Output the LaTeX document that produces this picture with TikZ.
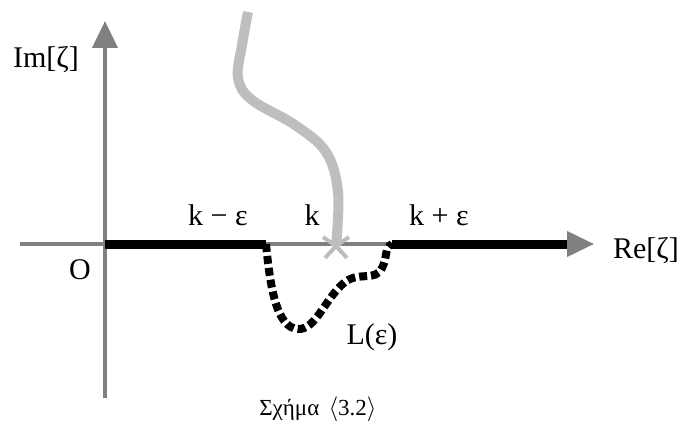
\documentclass[tikz,border=0pt]{standalone}
\usepackage{fontspec}
\setmainfont{Liberation Serif}
\usetikzlibrary{arrows.meta}
\definecolor{axisgray}{RGB}{128,128,128}
\definecolor{cutgray}{RGB}{190,190,190}
\begin{document}
\begin{tikzpicture}[x=1pt,y=-1pt,
  axisline/.style={draw=axisgray,line width=4pt},
  axisarrow/.style={-{Triangle[length=27pt,width=25pt]}},
  thickseg/.style={draw=black,line width=9pt},
  contour/.style={draw=black,line width=8pt,dash pattern=on 8pt off 4pt},
  cutline/.style={draw=cutgray,line width=10pt},
  lbl/.style={inner sep=0pt,font=\fontsize{30}{32}\selectfont},
  captxt/.style={inner sep=0pt,font=\fontsize{23}{25}\selectfont}]
\useasboundingbox[fill=white] (0,0) rectangle (682,428);
% coordinates
\coordinate (xstart) at (20,244);
\coordinate (xend) at (594,244);
\coordinate (ystart) at (105,398);
\coordinate (yend) at (105,21);
\coordinate (O) at (105,244);
\coordinate (km) at (266,244);
\coordinate (kp) at (392,244);
\coordinate (xbase) at (567,244);
\coordinate (K) at (336,246);
% axes
\draw[axisline,axisarrow,color=axisgray] (ystart) -- (yend);
\draw[axisline,axisarrow,color=axisgray] (xstart) -- (xend);
% thick segments
\draw[thickseg] (O) -- (km);
\draw[thickseg] (kp) -- (xbase);
% branch cut
\draw[cutline] plot[smooth,tension=0.6] coordinates {(248,12) (242,45) (238,78) (252,100) (295,125) (326,152) (338,192) (K)};
\draw[draw=cutgray,line width=4pt] (K) -- ++(-13,-9) (K) -- ++(13,-9) (K) -- ++(-11,12) (K) -- ++(11,12);
% contour L(eps)
\draw[contour] (km) .. controls (270,285) and (276,328) .. (298,329)
  .. controls (316,330) and (325,298) .. (345,282)
  .. controls (360,271) and (375,282) .. (382,268)
  .. controls (388,256) and (384,248) .. (kp);
% labels
\node[lbl] (im) at (46,60) {Im[ζ]};
\node[lbl] (o) at (80,270) {O};
\node[lbl] (kme) at (218,215) {k − ε};
\node[lbl] (k) at (312,215) {k};
\node[lbl] (kpe) at (439,215) {k + ε};
\node[lbl] (re) at (646,251) {Re[ζ]};
\node[lbl] (L) at (372,337) {L(ε)};
\node[captxt] (fig) at (318,409) {Σχήμα\hspace{0.4em}$\langle$3.2$\rangle$};
\end{tikzpicture}
\end{document}
